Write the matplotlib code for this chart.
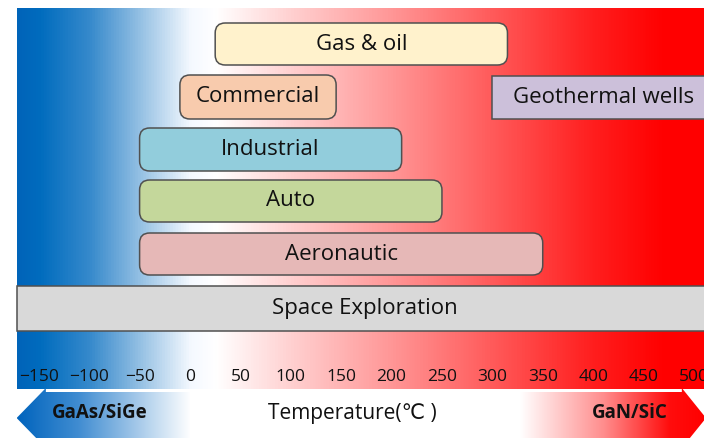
import numpy as np
import matplotlib.pyplot as plt
from matplotlib.patches import FancyBboxPatch, Rectangle, Polygon
from matplotlib.colors import LinearSegmentedColormap

plt.rcParams['font.family'] = ['Open Sans', 'DejaVu Sans']

# operating temperature ranges per application (deg C)
apps = ["Gas & oil", "Commercial", "Geothermal wells", "Industrial",
        "Auto", "Aeronautic", "Space Exploration"]
t_low = [25, -10, 300, -50, -50, -50, -172]
t_high = [315, 145, 520, 210, 250, 350, 520]
box_colors = ["#FFF2CC", "#F8CBAD", "#CCC0DA", "#92CDDC",
              "#C4D79B", "#E6B8B7", "#D9D9D9"]
rounded = [True, True, False, True, True, True, False]
# row tops / heights in pixel units
row_top = [23, 75, 76, 128, 180, 233, 286]
row_h = [42, 44, 43, 43, 42, 42, 45]

ticks = [-150, -100, -50, 0, 50, 100, 150, 200, 250, 300, 350, 400, 450, 500]

fig = plt.figure(figsize=(7.04, 4.38), dpi=100)
ax = fig.add_axes([0, 0, 1, 1])
ax.set_xlim(-188.5, 510)
ax.set_ylim(438, 0)
ax.axis('off')

# blue -> white -> red temperature band
stops = [(-172, (0, 100, 185)), (-150, (0, 108, 190)), (-100, (55, 138, 204)),
         (-50, (150, 193, 228)), (0, (245, 249, 255)), (25, (255, 255, 255)),
         (100, (255, 208, 208)), (200, (255, 150, 150)), (300, (255, 90, 90)),
         (400, (255, 30, 30)), (470, (255, 0, 0)), (510, (255, 0, 0))]
lo, hi = stops[0][0], stops[-1][0]
cmap = LinearSegmentedColormap.from_list(
    "temp", [((t - lo) / (hi - lo), tuple(c / 255 for c in col)) for t, col in stops])
grad = np.linspace(0, 1, 512).reshape(1, -1)
ax.imshow(grad, cmap=cmap, aspect='auto', extent=[lo, hi, 389, 8], zorder=0)

for name, a, b, col, rnd, top, h in zip(apps, t_low, t_high, box_colors,
                                        rounded, row_top, row_h):
    if rnd:
        p = FancyBboxPatch((a, top), b - a, h,
                           boxstyle="round,pad=0,rounding_size=10",
                           fc=col, ec="#505050", lw=1.1, zorder=2)
    else:
        p = Rectangle((a, top), b - a, h, fc=col, ec="#505050", lw=1.1, zorder=2)
    ax.add_patch(p)
    ax.text((a + b) / 2, top + h / 2, name, ha='center', va='center',
            fontsize=16, color="#111111", zorder=3)

for t in ticks:
    lab = str(t).replace('-', '\u2212')
    ax.text(t, 377, lab, ha='center', va='center', fontsize=12.5,
            color="#111111", zorder=3)

# material arrows underneath the axis
left_arrow = Polygon([(-172, 418), (-143, 388), (-143, 392), (0, 392),
                      (0, 446), (-143, 446), (-143, 448)], closed=True,
                     fc='none', ec='none')
ax.add_patch(left_arrow)
lcmap = LinearSegmentedColormap.from_list(
    "la", [(0, (0, 0.39, 0.74)), (0.35, (0.25, 0.55, 0.82)), (1, (1, 1, 1))])
im = ax.imshow(grad, cmap=lcmap, aspect='auto', extent=[-172, 0, 450, 385], zorder=1)
im.set_clip_path(left_arrow)

right_arrow = Polygon([(327, 392), (488, 392), (488, 388), (512, 418),
                       (488, 448), (488, 446), (327, 446)], closed=True,
                      fc='none', ec='none')
ax.add_patch(right_arrow)
rcmap = LinearSegmentedColormap.from_list(
    "ra", [(0, (1, 1, 1)), (0.45, (1, 0.55, 0.55)), (0.8, (1, 0.05, 0.05)), (1, (1, 0, 0))])
im2 = ax.imshow(grad, cmap=rcmap, aspect='auto', extent=[327, 512, 450, 385], zorder=1)
im2.set_clip_path(right_arrow)

ax.text(-90, 413, "GaAs/SiGe", ha='center', va='center', fontsize=13.5,
        fontweight='bold', color="#111111", zorder=3)
ax.text(436, 413, "GaN/SiC", ha='center', va='center', fontsize=13.5,
        fontweight='bold', color="#111111", zorder=3)
ax.text(161, 413, "Temperature(\u2103 )", ha='center', va='center', fontsize=15,
        color="#111111", zorder=3)

fig.savefig("out.png", dpi=100)
